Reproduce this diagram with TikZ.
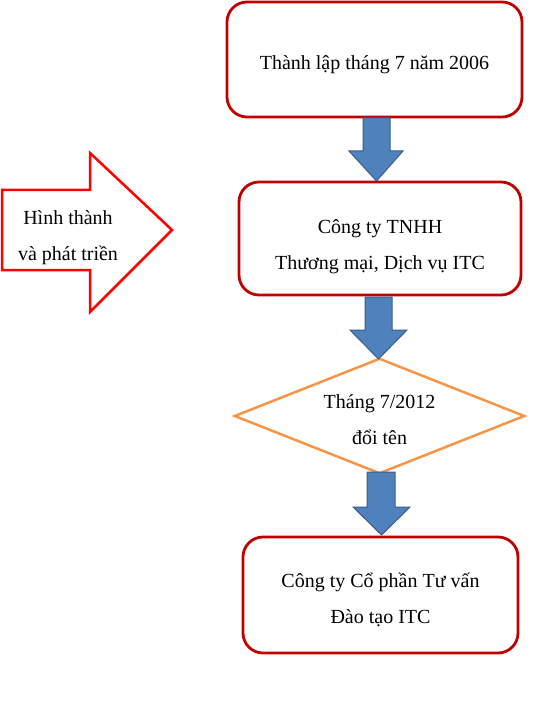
\documentclass[tikz,border=0pt]{standalone}
\usepackage{fontspec}
\setmainfont{Liberation Serif}
\usetikzlibrary{shapes.geometric}
\definecolor{boxred}{RGB}{192,0,0}
\definecolor{arrowblue}{RGB}{79,129,189}
\definecolor{arrowedge}{RGB}{56,93,138}
\definecolor{diaorange}{RGB}{247,150,70}
\definecolor{leftred}{RGB}{255,0,0}
\tikzset{
  redbox/.style={draw=boxred, line width=2.8pt, rounded corners=20pt, fill=white,
    inner sep=0pt},
  blockarrow/.style={fill=arrowblue, draw=arrowedge, line width=1pt},
  bigarrow/.style={draw=leftred, line width=2.5pt, fill=white},
  lbl/.style={align=center, font=\fontsize{20}{36}\selectfont, inner sep=0pt}
}
\begin{document}
\begin{tikzpicture}[x=1pt,y=-1pt]
\useasboundingbox (0,0) rectangle (556,703);
% boxes
\node[redbox, minimum width=295pt, minimum height=115pt] (b1) at (374.5,59.5) {};
\node[lbl] (t1) at (374.5,65) {Thành lập tháng 7 năm 2006};
\node[redbox, minimum width=282pt, minimum height=113pt] (b2) at (380,238.5) {};
\node[lbl] (t2) at (380,246.5) {Công ty TNHH\\Thương mại, Dịch vụ ITC};
\node[draw=none, minimum width=289pt, minimum height=114pt, inner sep=0pt] (d) at (379.5,416) {};
\draw[draw=diaorange, line width=2.5pt] (d.north) -- (d.east) -- (d.south) -- (d.west) -- cycle;
\node[lbl] (dt) at (379.5,420) {Tháng 7/2012\\đổi tên};
\node[redbox, minimum width=275pt, minimum height=116pt] (b4) at (380.5,595) {};
\node[lbl] (t4) at (380.5,600) {Công ty Cổ phần Tư vấn\\Đào tạo ITC};
% block arrows
\draw[blockarrow] (363,118) -- (390,118) -- (390,151) -- (403,151) -- (376.5,181) -- (349,151) -- (363,151) -- cycle;
\draw[blockarrow] (365,297) -- (392,297) -- (392,330) -- (407,330) -- (378.5,359) -- (350,330) -- (365,330) -- cycle;
\draw[blockarrow] (367,472) -- (395,472) -- (395,507) -- (410,507) -- (381.5,535) -- (353,507) -- (367,507) -- cycle;
% left arrow
\draw[bigarrow] (2,190) -- (90,190) -- (90,153) -- (172,230) -- (90,312) -- (90,270) -- (2,270) -- cycle;
\node[lbl] (la) at (68,238) {Hình thành\\và phát triền};
\end{tikzpicture}
\end{document}
